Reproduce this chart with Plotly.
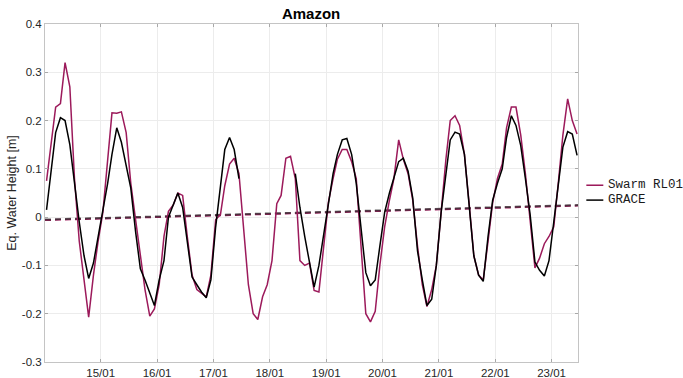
import pandas as pd
import plotly.graph_objects as go

# Monthly equivalent water height anomalies over the Amazon basin [m]
months = pd.date_range("2014-01-01", periods=114, freq="MS") + pd.Timedelta(days=14)

swarm_rl01 = [
    0.075, 0.15, 0.228, 0.235, 0.32, 0.27, 0.08, -0.05, -0.13, -0.207, -0.12, -0.05,
    0.01, 0.11, 0.216, 0.215, 0.218, 0.175, 0.07, -0.005, -0.08, -0.15, -0.205, -0.19,
    -0.14, -0.04, 0.012, 0.025, 0.05, 0.045, -0.04, -0.12, -0.15, -0.158, -0.165, -0.12,
    -0.005, 0.005, 0.065, 0.11, 0.122, 0.09, -0.03, -0.14, -0.2, -0.212, -0.165, -0.14,
    -0.09, 0.028, 0.045, 0.122, 0.126, 0.08, -0.09, -0.1, -0.095, -0.152, -0.155, -0.07,
    0.03, 0.08, 0.12, 0.14, 0.14, 0.115, 0.08, -0.06, -0.2, -0.217, -0.195, -0.1,
    -0.02, 0.035, 0.08, 0.16, 0.12, 0.09, 0.035, -0.06, -0.14, -0.185, -0.15, -0.1,
    0.01, 0.12, 0.2, 0.21, 0.19, 0.13, 0.03, -0.08, -0.12, -0.13, -0.05, 0.03,
    0.08, 0.11, 0.185, 0.228, 0.228, 0.17, 0.09, -0.01, -0.105, -0.085, -0.055, -0.04,
    -0.02, 0.076, 0.17, 0.245, 0.2, 0.172,
]

# GRACE (to mid-2017) and GRACE-FO (from mid-2018); gap left empty
grace = [
    0.015, 0.1, 0.175, 0.206, 0.2, 0.15, 0.07, -0.01, -0.08, -0.127, -0.095, -0.04,
    0.01, 0.07, 0.13, 0.185, 0.155, 0.11, 0.06, -0.03, -0.107, -0.13, -0.155, -0.183,
    -0.13, -0.09, 0.0, 0.025, 0.05, 0.02, -0.05, -0.124, -0.14, -0.155, -0.167, -0.13,
    -0.02, 0.07, 0.14, 0.165, 0.14, 0.08, None, None, None, None, None, None,
    None, None, None, None, None, 0.09, 0.02, -0.04, -0.09, -0.145, -0.1, -0.04,
    0.03, 0.09, 0.13, 0.16, 0.163, 0.13, 0.07, -0.03, -0.115, -0.142, -0.13, -0.06,
    0.01, 0.05, 0.08, 0.115, 0.122, 0.095, 0.04, -0.07, -0.13, -0.183, -0.17, -0.1,
    0.01, 0.09, 0.16, 0.176, 0.172, 0.13, 0.03, -0.08, -0.12, -0.133, -0.04, 0.035,
    0.07, 0.1, 0.165, 0.21, 0.19, 0.148, 0.08, 0.005, -0.093, -0.11, -0.122, -0.09,
    -0.01, 0.076, 0.145, 0.177, 0.172, 0.128,
]

# Linear trend end values over the full period
trend_dates = ["2014-01-05", "2023-06-21"]
swarm_trend = [-0.006, 0.024]
grace_trend = [-0.005, 0.025]

y_ticks = [-0.3, -0.2, -0.1, 0, 0.1, 0.2, 0.3, 0.4]
y_tick_text = ["-0.3", "-0.2", "-0.1", "0", "0.1", "0.2", "0.3", "0.4"]
x_ticks = [f"{y}-01-01" for y in range(2015, 2024)]
x_tick_text = [f"{y % 100:02d}/01" for y in range(2015, 2024)]

SWARM_COLOR = "#9c1a5b"
GRACE_COLOR = "#000000"

fig = go.Figure()
fig.add_trace(go.Scatter(x=trend_dates, y=swarm_trend, mode="lines",
                         line=dict(color=SWARM_COLOR, width=2, dash="6px,4px")))
fig.add_trace(go.Scatter(x=trend_dates, y=grace_trend, mode="lines", opacity=0.75,
                         line=dict(color="#333333", width=2, dash="6px,4px")))
fig.add_trace(go.Scatter(x=months, y=swarm_rl01, mode="lines", name="Swarm RL01",
                         line=dict(color=SWARM_COLOR, width=1.5)))
fig.add_trace(go.Scatter(x=months, y=grace, mode="lines", name="GRACE",
                         connectgaps=False, line=dict(color=GRACE_COLOR, width=1.5)))

# Legend drawn beside the axes box
legend_items = [("Swarm RL01", SWARM_COLOR, 0.523), ("GRACE", GRACE_COLOR, 0.479)]
for label, color, ypos in legend_items:
    fig.add_shape(type="line", xref="paper", yref="paper", x0=1.0156, x1=1.0475,
                  y0=ypos, y1=ypos, line=dict(color=color, width=1.5))
    fig.add_annotation(text=label, xref="paper", yref="paper", x=1.053, y=ypos,
                       xanchor="left", yanchor="middle", showarrow=False,
                       font=dict(family="Liberation Mono, Courier New, monospace",
                                 size=12.5, color="#1a1a1a"))

axis_common = dict(showline=True, linecolor="#c4c4c4", linewidth=1, mirror="ticks",
                   ticks="inside", ticklen=3, tickcolor="#a8a8a8", automargin=False,
                   showgrid=True, gridcolor="#ececec", gridwidth=1, zeroline=False,
                   tickfont=dict(family="Liberation Sans, Arial, sans-serif",
                                 size=11.5, color="#262626"))

fig.update_layout(
    width=683, height=378,
    margin=dict(l=45, r=105, t=24, b=16),
    paper_bgcolor="white", plot_bgcolor="white",
    showlegend=False,
    title=dict(text="<b>Amazon</b>", x=0.4555, xref="container", xanchor="center",
               y=0.963, yref="container", yanchor="middle",
               font=dict(family="Liberation Sans, Arial, sans-serif", size=15, color="#000")),
    xaxis=dict(range=["2014-01-05", "2023-06-21"], tickvals=x_ticks, ticktext=x_tick_text,
               **axis_common),
    yaxis=dict(range=[-0.3, 0.4], tickvals=y_ticks, ticktext=y_tick_text,
               title=dict(text="Eq. Water Height [m]", standoff=2,
                          font=dict(family="Liberation Sans, Arial, sans-serif",
                                    size=12.5, color="#262626")),
               **axis_common),
)

fig.write_html("out.html")
